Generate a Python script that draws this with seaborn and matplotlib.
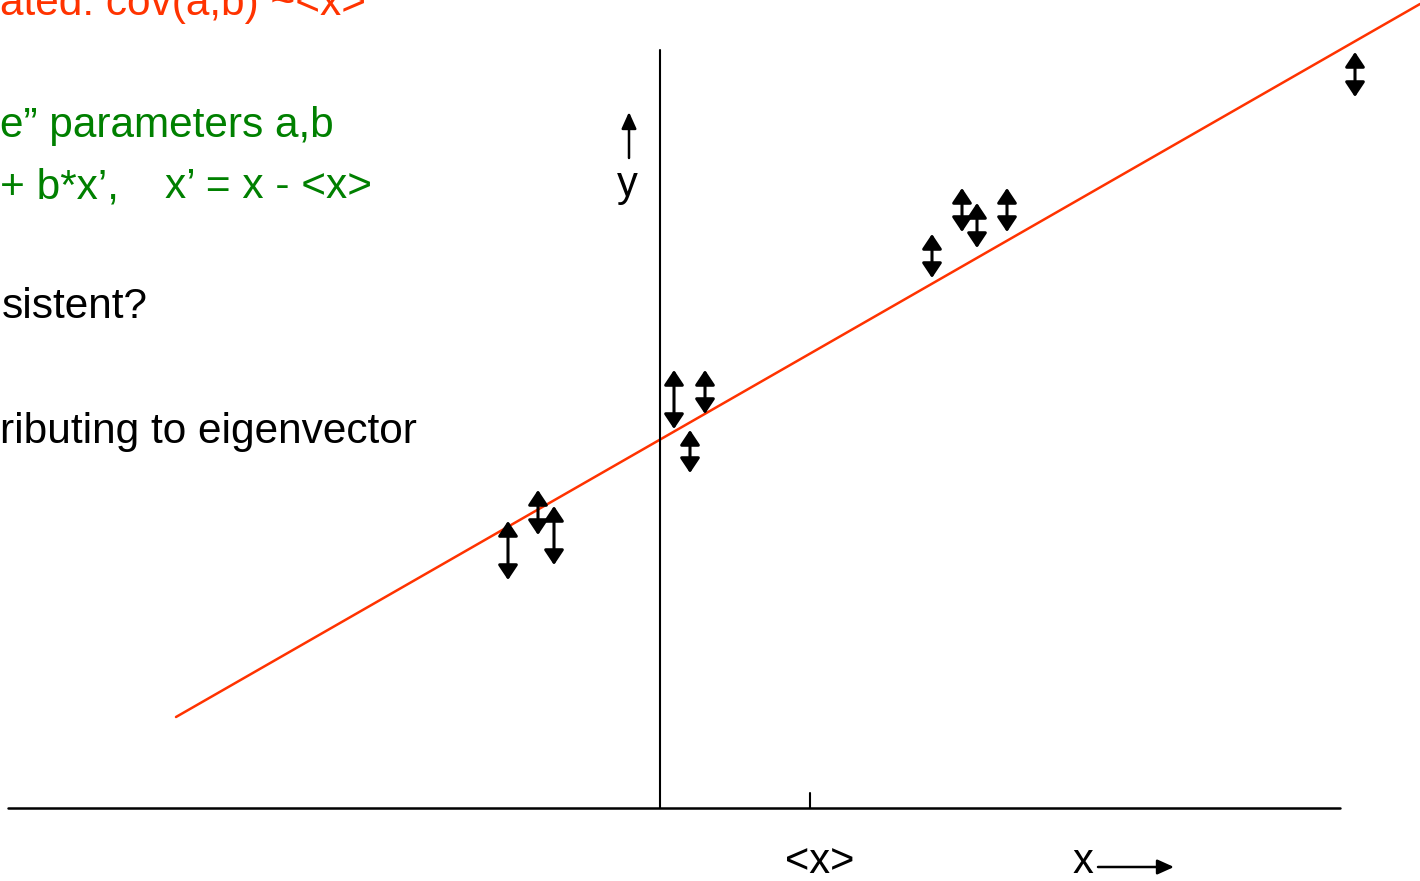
import matplotlib
matplotlib.use("Agg")
import matplotlib.pyplot as plt
import seaborn as sns
import pandas as pd

sns.set_theme(style="white")
plt.rcParams['font.family'] = ['Liberation Sans', 'DejaVu Sans']

# --- data (slide coordinates, y grows downward) ---
arrow_x = [508, 538, 554, 674, 705, 690, 932, 962, 977, 1007, 1355]
arrow_top = [521, 490, 506, 370, 370, 430, 234, 188, 203, 188, 52]
arrow_bottom = [580, 535, 565, 429, 414, 473, 278, 232, 248, 232, 97]

fit_x = [176, 1420]
fit_y = [717, 4]

axis_x_range = [8, 1340]
axis_y_pos = 808
yaxis_x = 660
yaxis_range = [50, 808]
mean_tick_x = 810

red_lines = ["ated: cov(a,b) ~<x>"]
green_lines = ["e\u201d parameters a,b", "+ b*x\u2019,", "x\u2019 = x - <x>"]
black_lines = ["sistent?", "ributing to eigenvector"]

fig = plt.figure(figsize=(14.2, 8.81), dpi=100)
ax = fig.add_axes([0, 0, 1, 1])
ax.set_xlim(0, 1420)
ax.set_ylim(881, 0)
ax.axis('off')

# fit line
df = pd.DataFrame({"x": fit_x, "y": fit_y})
sns.lineplot(data=df, x="x", y="y", ax=ax, color="#FF3300", lw=1.8,
             sort=False, estimator=None)

# axes
sns.lineplot(x=axis_x_range, y=[axis_y_pos, axis_y_pos], ax=ax, color="black",
             lw=1.8, estimator=None)
sns.lineplot(x=[yaxis_x, yaxis_x], y=yaxis_range, ax=ax, color="black", lw=1.5,
             sort=False, estimator=None)
ax.plot([mean_tick_x, mean_tick_x], [793, axis_y_pos], color="black", lw=1.5)

# double arrows (error bars)
for x, t, b in zip(arrow_x, arrow_top, arrow_bottom):
    ax.annotate("", xy=(x, t), xytext=(x, b),
                arrowprops=dict(arrowstyle="<|-|>,head_length=0.9,head_width=0.6",
                                mutation_scale=10,
                                color="black", lw=2.2, shrinkA=0, shrinkB=0))

# y axis label arrow
ax.annotate("", xy=(629, 112), xytext=(629, 158),
            arrowprops=dict(arrowstyle="-|>,head_length=1.0,head_width=0.45",
                            mutation_scale=10,
                            color="black", lw=1.8, shrinkA=0, shrinkB=0))
ax.text(627, 185, "y", fontsize=30, ha="center", va="center", color="black")

# x axis labels
ax.text(820, 873, "<x>", fontsize=30, ha="center", va="baseline", color="black")
ax.text(1083, 873, "x", fontsize=30, ha="center", va="baseline", color="black")
ax.annotate("", xy=(1174, 867), xytext=(1098, 867),
            arrowprops=dict(arrowstyle="-|>,head_length=1.0,head_width=0.45",
                            mutation_scale=10,
                            color="black", lw=1.8, shrinkA=0, shrinkB=0))

# slide text
fs = 30.5
ax.text(0, 15, red_lines[0], fontsize=fs, color="#FF3300", ha="left", va="baseline")
ax.text(0, 137, green_lines[0], fontsize=fs, color="#008000", ha="left", va="baseline")
ax.text(0, 198, green_lines[1], fontsize=fs, color="#008000", ha="left", va="baseline")
ax.text(165, 198, green_lines[2], fontsize=fs, color="#008000", ha="left", va="baseline")
ax.text(2, 318, black_lines[0], fontsize=fs, color="black", ha="left", va="baseline")
ax.text(0, 443, black_lines[1], fontsize=fs, color="black", ha="left", va="baseline")

fig.savefig("out.png", dpi=100)
